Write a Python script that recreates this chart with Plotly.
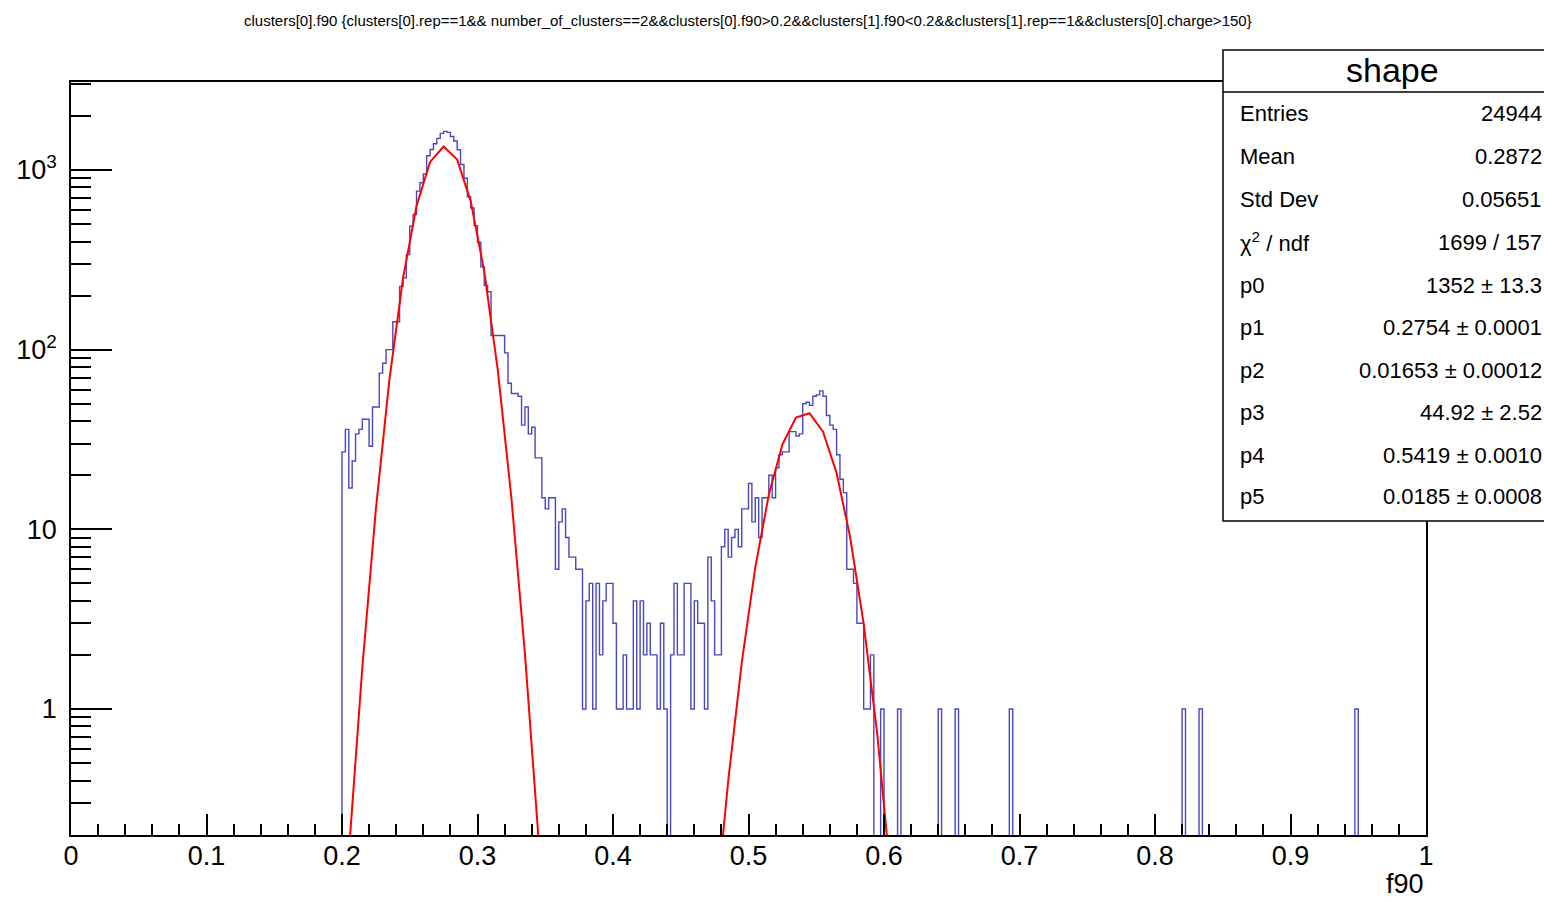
import numpy as np
import plotly.graph_objects as go

# ---------------- data ----------------
bin_width = 0.0025          # 400 bins on [0, 1]
n_bins = 400
first_bin = 80              # contiguous region starts at f90 = 0.2

# bin contents from f90 = 0.2000 up to 0.5925 (bins 80..236)
counts_contig = [
    27, 36, 17, 24, 34, 36, 41, 41, 29, 48, 48, 74, 84, 100, 100, 143, 143, 225, 251, 338,
    487, 565, 763, 850, 950, 1200, 1300, 1400, 1500,
    1600, 1640, 1620,
    1536, 1450, 1296, 1073, 900, 709, 615, 490, 396, 289, 228, 210, 120, 120, 120, 120,
    96, 65, 57, 57, 55, 38, 48, 34, 37, 25,
    25, 15, 13, 15, 15, 6, 11, 13, 9, 7,
    7, 6, 6, 1, 4, 5, 1, 5, 2, 4,
    5, 5, 3, 1, 1, 2, 1, 1, 4, 1,
    4, 2, 3, 2, 2, 1, 3, 1, 0, 2,
    5, 2, 2, 5, 5, 1, 4, 3, 3, 1,
    7, 4, 2, 2, 8, 10, 7, 9, 10, 8,
    13, 13, 18, 11, 15, 9, 15, 15, 20, 15,
    22, 26, 27, 27, 35, 35, 33, 34, 50, 51,
    49, 55, 56, 59, 55, 43, 38, 36, 26, 19,
    16, 6, 6, 5, 3, 3, 1, 1, 2,
]
# isolated bins holding a single entry
single_entry_bins = [239, 244, 256, 261, 277, 328, 333, 379]

# fit: gaus(0..2) + gaus(3..5)
p0, p1, p2 = 1352.0, 0.2754, 0.01653
p3, p4, p5 = 44.92, 0.5419, 0.0185
fit_npx = 100

title_text = ("clusters[0].f90 {clusters[0].rep==1&& number_of_clusters==2&&clusters[0].f90>0.2"
              "&&clusters[1].f90<0.2&&clusters[1].rep==1&&clusters[0].charge>150}")
stats_title = "shape"
stats_labels = ["Entries", "Mean", "Std Dev", "χ<sup>2</sup> / ndf", "p0", "p1", "p2", "p3", "p4", "p5"]
stats_values = ["24944", "0.2872", "0.05651", "1699 / 157", "1352 ± 13.3", "0.2754 ± 0.0001",
                "0.01653 ± 0.00012", "44.92 ± 2.52", "0.5419 ± 0.0010", "0.0185 ± 0.0008"]

x_tick_vals = [0, 0.1, 0.2, 0.3, 0.4, 0.5, 0.6, 0.7, 0.8, 0.9, 1.0]
x_tick_text = ["0", "0.1", "0.2", "0.3", "0.4", "0.5", "0.6", "0.7", "0.8", "0.9", "1"]
y_tick_vals = [1, 10, 100, 1000]
y_tick_text = ["1", "10", "10<sup>2</sup>", "10<sup>3</sup>"]
x_title = "f90"

# ---------------- build ----------------
counts = np.zeros(n_bins)
counts[first_bin:first_bin + len(counts_contig)] = counts_contig
for b in single_entry_bins:
    counts[b] = 1

edges = np.arange(n_bins + 1) * bin_width
floor = 1e-3  # empty bins drawn below the frame
y_step = np.where(counts > 0, counts, floor)
x_step = edges
y_step = np.append(y_step, y_step[-1])

xf = (np.arange(fit_npx) + 0.5) / fit_npx
yf = p0 * np.exp(-0.5 * ((xf - p1) / p2) ** 2) + p3 * np.exp(-0.5 * ((xf - p4) / p5) ** 2)

FONT = "Liberation Sans, Arial, Helvetica, sans-serif"
W, H = 1544, 902
L, R, T, B = 71, 1426, 82, 835


def xp(px):
    return (px - L) / (R - L)


def yp(py):
    return (B - py) / (B - T)


fig = go.Figure()
fig.add_trace(go.Scatter(x=x_step, y=y_step, mode="lines", line=dict(color="#4848c0", width=1.4, shape="hv"),
                         hoverinfo="skip", showlegend=False))
fig.add_trace(go.Scatter(x=xf, y=yf, mode="lines", line=dict(color="#ff0000", width=2),
                         hoverinfo="skip", showlegend=False))

y_minor = [v * m for v in (0.1, 1, 10, 100, 1000) for m in range(2, 10)]
y_minor = [v for v in y_minor if 0.19 < v < 3100 and v not in y_tick_vals]
x_minor = [round(i * 0.02, 4) for i in range(51)]

fig.update_layout(
    width=W, height=H,
    margin=dict(l=L, r=W - R, t=T, b=H - B, pad=0),
    paper_bgcolor="white", plot_bgcolor="white",
    font=dict(family=FONT, color="black"),
    xaxis=dict(range=[0, 1], showgrid=False, zeroline=False, showline=True, linecolor="black", linewidth=1.5,
               mirror=True, ticks="inside", ticklen=21, tickwidth=1.5, tickcolor="black",
               tickvals=x_tick_vals, ticktext=x_tick_text, tickfont=dict(size=27, family=FONT),
               ticklabelstandoff=-4,
               minor=dict(ticks="inside", ticklen=11, tickwidth=1.5, tickcolor="black", tickvals=x_minor)),
    yaxis=dict(type="log", range=[-0.7013, 3.4898], showgrid=False, zeroline=False, showline=True,
               linecolor="black", linewidth=1.5, mirror=True, ticks="inside", ticklen=41, tickwidth=1.5,
               tickcolor="black", tickvals=y_tick_vals, ticktext=y_tick_text,
               tickfont=dict(size=27, family=FONT), ticklabelstandoff=7,
               minor=dict(ticks="inside", ticklen=20, tickwidth=1.5, tickcolor="black", tickvals=y_minor)),
)

annotations = [
    dict(text=title_text, x=xp(748), y=yp(20), xref="paper", yref="paper", xanchor="center", yanchor="middle",
         showarrow=False, font=dict(size=15, family=FONT)),
    dict(text=x_title, x=xp(1426), y=yp(884), xref="paper", yref="paper", xanchor="right", yanchor="middle",
         showarrow=False, font=dict(size=27, family=FONT)),
]

shapes = [
    dict(type="rect", xref="paper", yref="paper", x0=xp(1223), x1=xp(1600), y0=yp(521), y1=yp(50),
         line=dict(color="black", width=1.5), fillcolor="white", layer="above"),
    dict(type="line", xref="paper", yref="paper", x0=xp(1223), x1=xp(1600), y0=yp(92), y1=yp(92),
         line=dict(color="black", width=1.5), layer="above"),
]

annotations.append(dict(text=stats_title, x=xp(1392), y=yp(70), xref="paper", yref="paper", xanchor="center",
                        yanchor="middle", showarrow=False, font=dict(size=34, family=FONT)))
row_y = [115, 157, 200, 243, 286, 328, 371, 413, 456, 498]
for lab, val, ry in zip(stats_labels, stats_values, row_y):
    annotations.append(dict(text=lab, x=xp(1238), y=yp(ry - 1), xref="paper", yref="paper", xanchor="left",
                            yanchor="middle", showarrow=False, font=dict(size=22, family=FONT)))
    annotations.append(dict(text=val, x=xp(1544), y=yp(ry - 1), xref="paper", yref="paper", xanchor="right",
                            yanchor="middle", showarrow=False, font=dict(size=22, family=FONT)))

fig.update_layout(annotations=annotations, shapes=shapes)
fig.write_html("out.html")
